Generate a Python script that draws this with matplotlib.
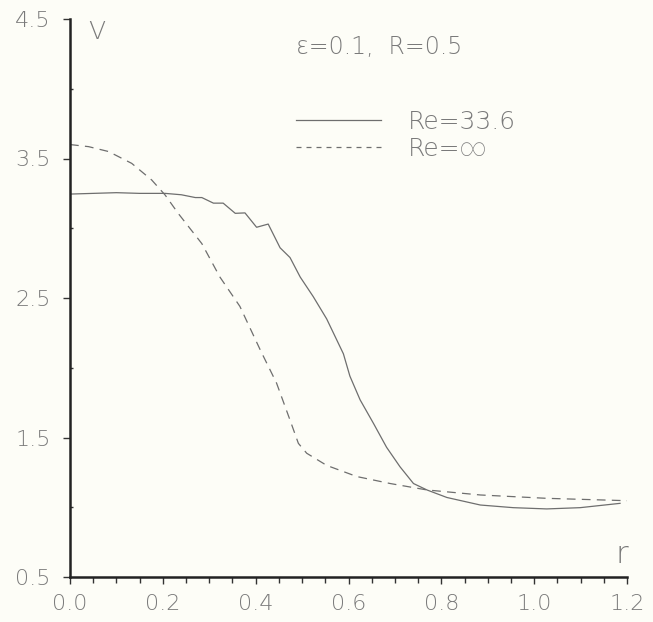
import matplotlib
matplotlib.use("Agg")
import matplotlib.pyplot as plt
from matplotlib.ticker import MultipleLocator, FixedLocator
from matplotlib.lines import Line2D

# Re = 33.6 (solid)
r_solid = [0.0, 0.05, 0.10, 0.15, 0.205, 0.24, 0.27, 0.284, 0.309, 0.330, 0.356, 0.377,
           0.402, 0.427, 0.4526, 0.474, 0.496, 0.524, 0.553, 0.589, 0.603, 0.625, 0.654,
           0.682, 0.711, 0.74, 0.769, 0.812, 0.884, 0.955, 1.027, 1.099, 1.185]
v_solid = [3.245, 3.25, 3.255, 3.25, 3.25, 3.24, 3.22, 3.22, 3.18, 3.18, 3.107, 3.11,
           3.007, 3.03, 2.86, 2.79, 2.65, 2.51, 2.35, 2.10, 1.94, 1.77, 1.60,
           1.43, 1.29, 1.17, 1.124, 1.07, 1.016, 0.997, 0.988, 0.997, 1.028]

# Re = infinity (dashed)
r_dash = [0.0, 0.04, 0.083, 0.133, 0.176, 0.205, 0.233, 0.284, 0.323, 0.366, 0.41, 0.445,
          0.474, 0.492, 0.51, 0.553, 0.618, 0.69, 0.769, 0.884, 1.027, 1.2]
v_dash = [3.60, 3.585, 3.55, 3.465, 3.346, 3.238, 3.107, 2.89, 2.65, 2.44, 2.127, 1.89,
          1.625, 1.458, 1.387, 1.30, 1.22, 1.17, 1.124, 1.088, 1.064, 1.047]

x_ticks = [0.0, 0.2, 0.4, 0.6, 0.8, 1.0, 1.2]
y_ticks = [0.5, 1.5, 2.5, 3.5, 4.5]
labels = ["Re=33.6", "Re=\u221e"]
title_text = "\u03b5=0.1,  R=0.5"

bg = "#fdfdf7"
txt = "#7a7a7a"
linec = "#6e6e6e"
FONT = ["DejaVu Sans", "Roboto", "Noto Sans"]
W = 200

fig = plt.figure(figsize=(6.53, 6.22), dpi=100, facecolor=bg)
ax = fig.add_axes([70/653, 45/622, 557/653, 558/622], facecolor=bg)

ax.plot(r_solid, v_solid, color=linec, lw=0.9, solid_joinstyle="round")
ax.plot(r_dash, v_dash, color=linec, lw=0.9, dashes=(7, 5))

ax.set_xlim(0, 1.2)
ax.set_ylim(0.5, 4.5)
for s in ["top", "right"]:
    ax.spines[s].set_visible(False)
for s in ["left", "bottom"]:
    ax.spines[s].set_linewidth(1.8)
    ax.spines[s].set_color("#222222")

ax.xaxis.set_major_locator(FixedLocator(x_ticks))
ax.xaxis.set_minor_locator(MultipleLocator(0.05))
ax.yaxis.set_major_locator(FixedLocator(y_ticks))
ax.yaxis.set_minor_locator(MultipleLocator(0.5))
ax.tick_params(axis="both", which="major", direction="out", length=5, width=1,
               color="#333333", labelcolor=txt, labelsize=16)
ax.tick_params(axis="x", which="minor", direction="out", length=4, width=1, color="#333333")
ax.tick_params(axis="y", which="minor", direction="in", length=2, width=1, color="#333333")
ax.tick_params(axis="x", pad=7)
ax.tick_params(axis="y", pad=9)
ax.set_xticklabels([f"{t:.1f}" for t in x_ticks], family=FONT, weight=W)
ax.set_yticklabels([f"{t:.1f}" for t in y_ticks], family=FONT, weight=W)

ax.text(0.032, 0.998, "V", transform=ax.transAxes, fontsize=18, color=txt,
        ha="left", va="top", family=FONT, weight=W)
ax.text(0.990, 0.015, "r", transform=ax.transAxes, fontsize=22, color=txt,
        ha="center", va="bottom", family=FONT, weight=W)
ax.text(0.405, 0.95, title_text, transform=ax.transAxes, fontsize=17, color=txt,
        ha="left", va="center", family=FONT, weight=W)

handles = [Line2D([], [], color=linec, lw=0.9),
           Line2D([], [], color=linec, lw=0.9, dashes=(4, 4))]
leg = ax.legend(handles, labels, loc="upper left", bbox_to_anchor=(0.405, 0.837),
                frameon=False, handlelength=3.4, handletextpad=1.1,
                labelspacing=0.12, borderpad=0, borderaxespad=0,
                prop={"family": FONT, "size": 18, "weight": W})
for t in leg.get_texts():
    t.set_color(txt)

fig.savefig("out.png", dpi=100, facecolor=bg)
